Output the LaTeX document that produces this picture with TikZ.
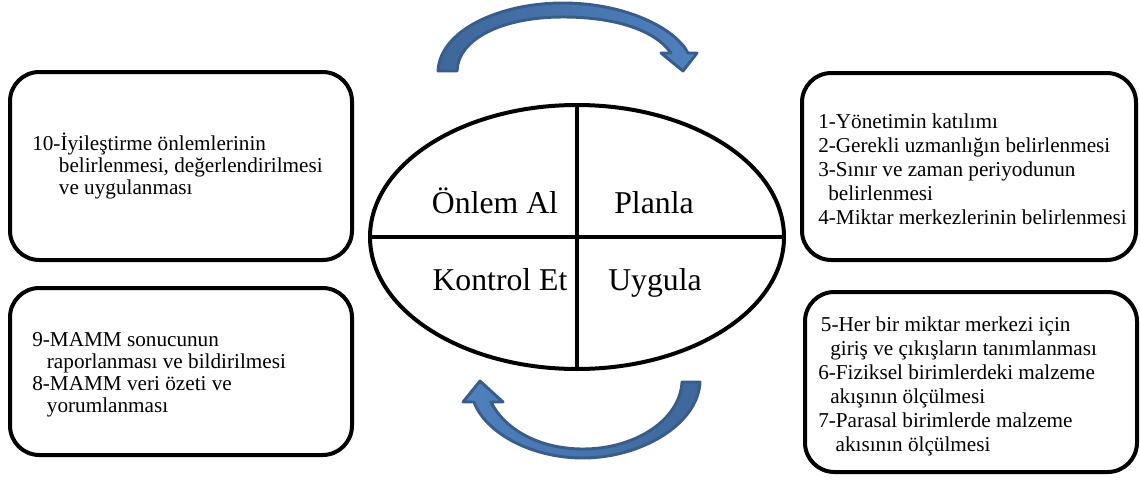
\documentclass[tikz,border=0pt]{standalone}
\usepackage{fontspec}
\setmainfont{Liberation Serif}
\usetikzlibrary{shapes.geometric}
\definecolor{arrowedge}{RGB}{56,93,138}
\definecolor{arrowdark}{RGB}{62,103,155}
\definecolor{arrowlight}{RGB}{79,129,189}

\begin{document}
\begin{tikzpicture}[
    x=0.75pt, y=-0.75pt,
    card/.style={draw, line width=3pt, rounded corners=22pt},
    steps/.style={inner sep=0pt, align=left, anchor=west,
                  font=\fontsize{15.9}{16.5}\selectfont},
    widesteps/.style={steps, font=\fontsize{15.9}{18}\selectfont},
    quarter/.style={inner sep=0pt, anchor=base,
                    font=\fontsize{23.8}{28}\selectfont},
    turn/.style={draw=arrowedge, line width=2.2pt, line join=round}
  ]
  \useasboundingbox (0,0) rectangle (1140,479);

  \node[draw, ellipse, line width=3pt, inner sep=0pt,
        minimum width=310.5pt, minimum height=198pt] (cycle) at (577,237) {};
  \draw[line width=3pt] (cycle.north) -- (cycle.south);
  \draw[line width=3pt] (cycle.west) -- (cycle.east);
  \node[quarter] (act) at (495,213) {Önlem Al};
  \node[quarter] (plan) at (654,213) {Planla};
  \node[quarter] (check) at (500,290) {Kontrol Et};
  \node[quarter] (do) at (655,290) {Uygula};

  \draw[card] (10,72) rectangle (352,260);
  \draw[card] (802,73) rectangle (1136,260);
  \draw[card] (10,288) rectangle (352,455);
  \draw[card] (805,292) rectangle (1137,472);

  \node[steps] (s10) at (32,166) {10-İyileştirme önlemlerinin\\
    \hspace*{20pt}belirlenmesi, değerlendirilmesi\\
    \hspace*{20pt}ve uygulanması};
  \node[widesteps] (s1) at (818,169) {1-Yönetimin katılımı\\
    2-Gerekli uzmanlığın belirlenmesi\\
    3-Sınır ve zaman periyodunun\\
    \hspace*{7.5pt}belirlenmesi\\
    4-Miktar merkezlerinin belirlenmesi};
  \node[steps] (s9) at (32,375) {9-MAMM sonucunun\\
    \hspace*{11pt}raporlanması ve bildirilmesi\\
    8-MAMM veri özeti ve\\
    \hspace*{11pt}yorumlanması};
  \node[widesteps] (s5) at (818,386) {\hspace*{2pt}5-Her bir miktar merkezi için\\
    \hspace*{9pt}giriş ve çıkışların tanımlanması\\
    6-Fiziksel birimlerdeki malzeme\\
    \hspace*{9pt}akışının ölçülmesi\\
    7-Parasal birimlerde malzeme\\
    \hspace*{13pt}akısının ölçülmesi};

  % curved arrows around the cycle
  \path[turn, left color=arrowdark, right color=arrowlight]
    (438,71) .. controls (440,30) and (500,3) .. (563,3)
    .. controls (625,3) and (675,28) .. (688,53) -- (697,53) -- (683,71)
    -- (661,53) -- (671,53) .. controls (655,30) and (615,17) .. (563,17)
    .. controls (500,17) and (458,40) .. (457,71) -- cycle;
  \path[turn, left color=arrowlight, right color=arrowdark]
    (700,382) .. controls (698,425) and (640,458) .. (583,458)
    .. controls (530,458) and (485,432) .. (474,402) -- (463,402) -- (480,381)
    -- (503,402) -- (491,402) .. controls (505,430) and (540,449) .. (583,449)
    .. controls (635,449) and (680,420) .. (682,382) -- cycle;
\end{tikzpicture}
\end{document}
